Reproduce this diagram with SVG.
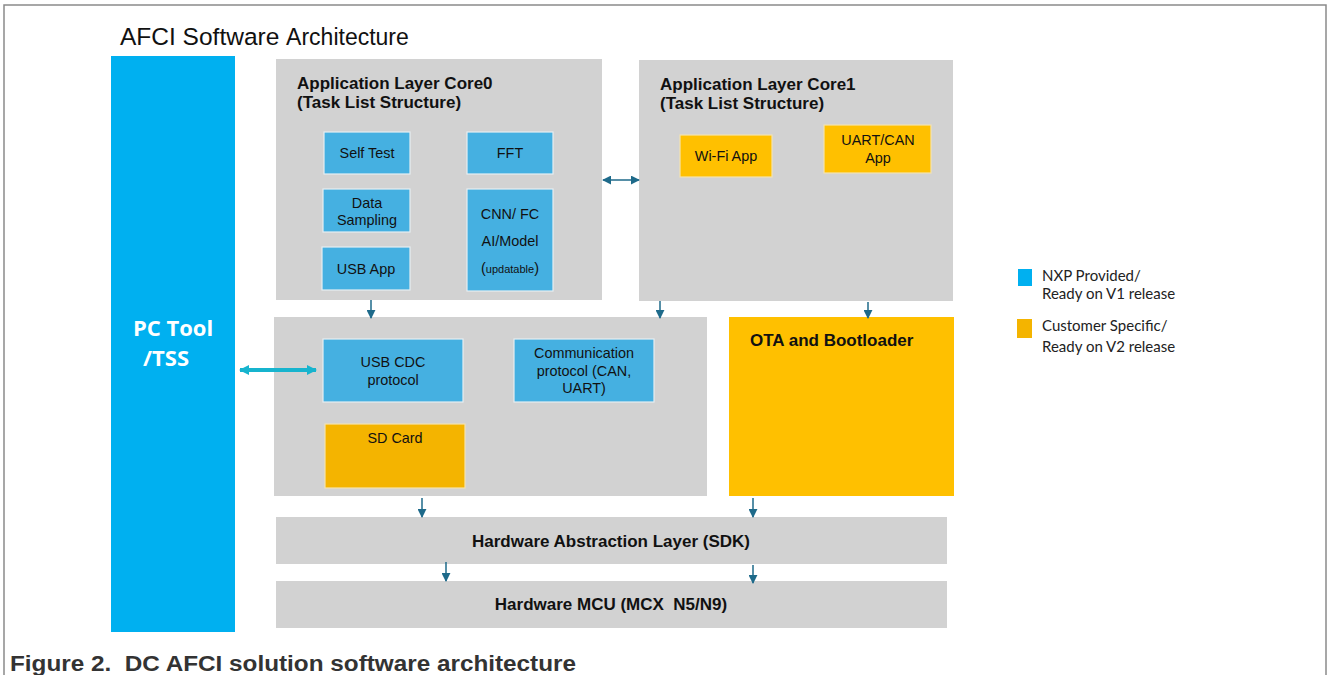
<svg xmlns="http://www.w3.org/2000/svg" width="1328" height="675" viewBox="0 0 1328 675">
<defs>
<style>
.layer{fill:#D2D2D2}
.blue{fill:#45B0E1;stroke:#E6EEF2;stroke-width:1.2}
.orange{fill:#FFC000;stroke:#F3E3B0;stroke-width:1.2}
.t{font-family:"Liberation Sans",Arial,sans-serif;font-size:14.4px;fill:#111}
.tb{font-family:"Liberation Sans",Arial,sans-serif;font-size:17px;font-weight:bold;fill:#111}
.tc{text-anchor:middle}
.pre{white-space:pre}
.leg{font-family:Lato,"Liberation Sans",sans-serif;font-size:15px;fill:#222}
.arr{stroke:#1E6A8A;stroke-width:1.5;fill:none}
.pc{font-family:"Open Sans",sans-serif;font-weight:bold;font-size:22px;fill:#fff;text-anchor:middle}
</style>
<marker id="ah" viewBox="0 0 10 10" refX="9" refY="5" markerWidth="9" markerHeight="9" orient="auto-start-reverse" markerUnits="userSpaceOnUse">
<path d="M0,0 L10,5 L0,10 z" fill="#1E6A8A"/>
</marker>
<marker id="ahc" viewBox="0 0 10 10" refX="9" refY="5" markerWidth="10" markerHeight="12" orient="auto-start-reverse" markerUnits="userSpaceOnUse">
<path d="M0,0 L10,5 L0,10 z" fill="#17B4CE"/>
</marker>
</defs>
<rect width="1328" height="675" fill="#fff"/>
<path d="M4,676 V5 H1326 V676" fill="none" stroke="#8a8a8a" stroke-width="1.5"/>

<text x="120" y="45" font-family="'Liberation Sans',Arial,sans-serif" font-size="24.5" fill="#111">AFCI Software <tspan font-size="23">Architecture</tspan></text>

<g id="pctool">
<rect x="111" y="56" width="124" height="576" fill="#00B0F0"/>
<text class="pc" x="173" y="336">PC Tool</text>
<text class="pc" x="166" y="366">/TSS</text>
</g>

<g id="core0">
<rect class="layer" x="276" y="59" width="326" height="241"/>
<text class="tb" x="297" y="89">Application Layer Core0</text>
<text class="tb" x="297" y="108">(Task List Structure)</text>
</g>
<g id="selftest"><rect class="blue" x="324" y="132" width="86" height="42"/><text class="t tc" x="367" y="158">Self Test</text></g>
<g id="fft"><rect class="blue" x="467" y="132" width="86" height="42"/><text class="t tc" x="510" y="158">FFT</text></g>
<g id="datasampling"><rect class="blue" x="323" y="189" width="87" height="43"/><text class="t tc" x="367" y="208">Data</text><text class="t tc" x="367" y="225">Sampling</text></g>
<g id="cnn"><rect class="blue" x="467" y="189" width="86" height="102"/><text class="t tc" x="510" y="219">CNN/ FC</text><text class="t tc" x="510" y="246">AI/Model</text><text class="t tc" x="510" y="273"><tspan>(</tspan><tspan font-size="11">updatable</tspan><tspan>)</tspan></text></g>
<g id="usbapp"><rect class="blue" x="322" y="247" width="88" height="43"/><text class="t tc" x="366" y="274">USB App</text></g>

<g id="core1">
<rect class="layer" x="639" y="60" width="314" height="241"/>
<text class="tb" x="660" y="90">Application Layer Core1</text>
<text class="tb" x="660" y="109">(Task List Structure)</text>
</g>
<g id="wifi"><rect class="orange" x="680" y="135" width="92" height="42"/><text class="t tc" x="726" y="161">Wi-Fi App</text></g>
<g id="uartcan"><rect class="orange" x="824" y="125" width="107" height="48"/><text class="t tc" x="878" y="145">UART/CAN</text><text class="t tc" x="878" y="163">App</text></g>

<g id="middle"><rect class="layer" x="274" y="317" width="433" height="179"/></g>
<g id="usbcdc"><rect class="blue" x="323" y="339" width="140" height="63"/><text class="t tc" x="393" y="367">USB CDC</text><text class="t tc" x="393" y="385">protocol</text></g>
<g id="comm"><rect class="blue" x="514" y="339" width="140" height="63"/><text class="t tc" x="584" y="358">Communication</text><text class="t tc" x="584" y="376">protocol (CAN,</text><text class="t tc" x="584" y="393">UART)</text></g>
<g id="sdcard"><rect x="325" y="424" width="140" height="64" fill="#F4B400" stroke="#F3E3B0" stroke-width="1.2"/><text class="t tc" x="395" y="443">SD Card</text></g>

<g id="ota"><rect x="729" y="317" width="225" height="179" fill="#FFC000"/><text class="tb" x="750" y="346">OTA and Bootloader</text></g>

<g id="hal"><rect class="layer" x="276" y="517" width="671" height="47"/><text class="tb tc" x="611" y="547" font-size="16.2">Hardware Abstraction Layer (SDK)</text></g>
<g id="mcu"><rect class="layer" x="276" y="581" width="671" height="47"/><text class="tb tc pre" x="611" y="610" font-size="16">Hardware MCU (MCX  N5/N9)</text></g>

<g id="connectors">
<line class="arr" x1="603" y1="180" x2="639" y2="180" marker-start="url(#ah)" marker-end="url(#ah)"/>
<line class="arr" x1="371" y1="300" x2="371" y2="318" marker-end="url(#ah)"/>
<line class="arr" x1="660" y1="301" x2="660" y2="318" marker-end="url(#ah)"/>
<line class="arr" x1="868" y1="302" x2="868" y2="318" marker-end="url(#ah)"/>
<line class="arr" x1="422" y1="498" x2="422" y2="517" marker-end="url(#ah)"/>
<line class="arr" x1="753" y1="498" x2="753" y2="517" marker-end="url(#ah)"/>
<line class="arr" x1="446" y1="562" x2="446" y2="581" marker-end="url(#ah)"/>
<line class="arr" x1="753" y1="565" x2="753" y2="583" marker-end="url(#ah)"/>
<line x1="240" y1="370" x2="316" y2="370" stroke="#17B4CE" stroke-width="4" marker-start="url(#ahc)" marker-end="url(#ahc)"/>
</g>

<g id="legend">
<rect x="1018" y="269" width="14" height="17" fill="#00B0F0"/>
<text class="leg" x="1042" y="281">NXP Provided/</text>
<text class="leg" x="1042" y="299">Ready on V1 release</text>
<rect x="1017" y="319" width="15" height="19" fill="#F4B400"/>
<text class="leg" x="1042" y="331">Customer Specific/</text>
<text class="leg" x="1042" y="352">Ready on V2 release</text>
</g>

<text class="pre" x="10" y="671" font-family="'Liberation Sans',Arial,sans-serif" font-weight="bold" font-size="22" fill="#333" textLength="566" lengthAdjust="spacingAndGlyphs">Figure 2.  DC AFCI solution software architecture</text>
</svg>
